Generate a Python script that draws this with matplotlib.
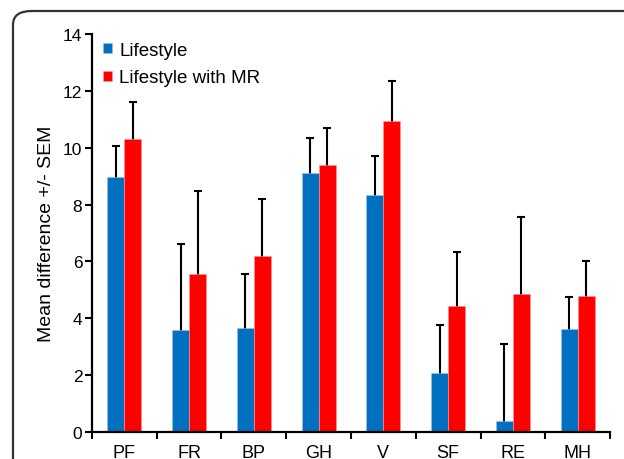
import matplotlib
matplotlib.use("Agg")
import matplotlib.pyplot as plt
import numpy as np
from matplotlib.patches import FancyBboxPatch

plt.rcParams["font.family"] = ["Liberation Sans", "DejaVu Sans"]

# Podaci ocitani sa slike
categories = ["PF", "FR", "BP", "GH", "V", "SF", "RE", "MH"]
lifestyle = [8.97, 3.60, 3.65, 9.10, 8.35, 2.07, 0.38, 3.62]
lifestyle_sem = [1.09, 3.00, 1.90, 1.25, 1.35, 1.68, 2.72, 1.13]
lifestyle_mr = [10.30, 5.55, 6.20, 9.40, 10.95, 4.42, 4.85, 4.78]
lifestyle_mr_sem = [1.30, 2.92, 2.00, 1.30, 1.40, 1.91, 2.72, 1.22]

BLUE = "#0070C0"
RED = "#FF0000"

fig = plt.figure(figsize=(6.24, 4.6), dpi=100)
ax = fig.add_axes([0.1474, 0.0587, 0.8302, 0.8652])

# okvir oko slike (zaobljeni uglovi, odsjecen desno i dolje)
frame = FancyBboxPatch((13 / 624, -0.2), 1.2, 0.2 + 1 - 12 / 460,
                       boxstyle="round,pad=0,rounding_size=0.03",
                       transform=fig.transFigure, fill=False,
                       edgecolor="#333333", lw=1.6, zorder=0)
fig.add_artist(frame)

x = np.arange(len(categories))
w = 0.263
ax.bar(x - w / 2, lifestyle, w, color=BLUE, edgecolor="#9DC3E6", lw=0.4,
       label="Lifestyle", zorder=2)
ax.bar(x + w / 2, lifestyle_mr, w, color=RED, edgecolor="#FF9999", lw=0.4,
       label="Lifestyle with MR", zorder=2)
# simetricne greske iza stubica -> vidi se samo gornji dio
ax.errorbar(x - w / 2, lifestyle, yerr=lifestyle_sem,
            fmt="none", ecolor="black", elinewidth=1.5, capsize=3,
            capthick=1.5, zorder=1)
ax.errorbar(x + w / 2, lifestyle_mr, yerr=lifestyle_mr_sem,
            fmt="none", ecolor="black", elinewidth=1.5, capsize=3,
            capthick=1.5, zorder=1)

ax.set_xlim(-0.5, len(categories) - 0.5)
ax.set_ylim(0, 14)
ax.set_yticks(np.arange(0, 15, 2))
ax.set_xticks(x)
ax.set_xticklabels(categories)
ax.set_xticks(np.arange(-0.5, len(categories)), minor=True)
ax.tick_params(axis="x", which="major", length=0, pad=9, labelsize=13)
ax.tick_params(axis="x", which="minor", length=5, width=1.5, direction="out")
ax.tick_params(axis="y", length=5, width=1.5, pad=2, labelsize=12.5)

for s in ("top", "right"):
    ax.spines[s].set_visible(False)
for s in ("left", "bottom"):
    ax.spines[s].set_linewidth(1.6)

ax.set_ylabel("Mean difference +/- SEM", fontsize=14, labelpad=6)

ax.legend(loc="upper left", bbox_to_anchor=(0.0, 1.008), frameon=False,
          fontsize=13.5, handlelength=0.45, handleheight=0.45,
          handletextpad=0.4, labelspacing=0.55, borderaxespad=0.2)

fig.savefig("out.png", dpi=100)
plt.close(fig)
